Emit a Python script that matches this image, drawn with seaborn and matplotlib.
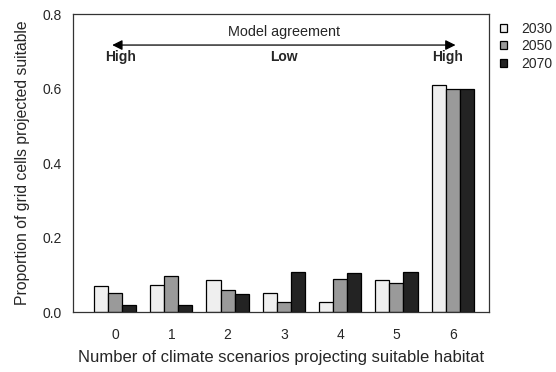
import numpy as np
import pandas as pd
import matplotlib
matplotlib.use("Agg")
import matplotlib.pyplot as plt
import seaborn as sns

# data
scenarios = ["0", "1", "2", "3", "4", "5", "6"]
years = ["2030", "2050", "2070"]
prop_2030 = [0.070, 0.074, 0.086, 0.051, 0.026, 0.086, 0.610]
prop_2050 = [0.052, 0.098, 0.060, 0.027, 0.090, 0.077, 0.598]
prop_2070 = [0.018, 0.019, 0.048, 0.107, 0.104, 0.107, 0.600]
bar_colors = ["#efefef", "#9a9a9a", "#232323"]

df = pd.DataFrame({
    "scenario": scenarios * 3,
    "year": np.repeat(years, len(scenarios)),
    "prop": prop_2030 + prop_2050 + prop_2070,
})

sns.set_style("white")
plt.rcParams["font.family"] = ["Liberation Sans", "DejaVu Sans"]

fig = plt.figure(figsize=(5.56, 3.72), dpi=100)
ax = fig.add_axes([0.131, 0.161, 0.749, 0.801])

sns.barplot(data=df, x="scenario", y="prop", hue="year", order=scenarios,
            hue_order=years, palette=bar_colors, width=0.75, gap=0,
            edgecolor="black", linewidth=0.9, saturation=1, ax=ax)

ax.set_xlim(-0.75, 6.65)
ax.set_ylim(0, 0.8)
ax.set_yticks([0.0, 0.2, 0.4, 0.6, 0.8])
ax.set_yticklabels(["0.0", "0.2", "0.4", "0.6", "0.8"])
ax.tick_params(axis="both", direction="out", length=4.5, width=0.8,
               labelsize=10, color="#333333")
ax.tick_params(axis="x", pad=7)
for s in ax.spines.values():
    s.set_visible(True)
    s.set_color("#333333")
    s.set_linewidth(0.9)

ax.set_xlabel("Number of climate scenarios projecting suitable habitat",
              fontsize=12, labelpad=6)
ax.set_ylabel("Proportion of grid cells projected suitable", fontsize=11.3,
              labelpad=9)

# model agreement annotation
ax.annotate("", xy=(-0.05, 0.717), xytext=(6.05, 0.717),
            arrowprops=dict(arrowstyle="<|-|>", color="black", lw=0.9,
                            mutation_scale=15, shrinkA=0, shrinkB=0))
ax.text(3.0, 0.753, "Model agreement", ha="center", va="center", fontsize=10.4)
ax.text(0.09, 0.685, "High", ha="center", va="center", fontsize=10,
        fontweight="bold")
ax.text(3.0, 0.685, "Low", ha="center", va="center", fontsize=10,
        fontweight="bold")
ax.text(5.9, 0.685, "High", ha="center", va="center", fontsize=10,
        fontweight="bold")

ax.legend(loc="upper left", bbox_to_anchor=(1.026, 0.975), frameon=False,
          fontsize=10, handlelength=0.5, handleheight=0.5, handletextpad=1.0,
          labelspacing=0.27, borderaxespad=0, borderpad=0)

fig.savefig("out.png", dpi=100, facecolor="white")
